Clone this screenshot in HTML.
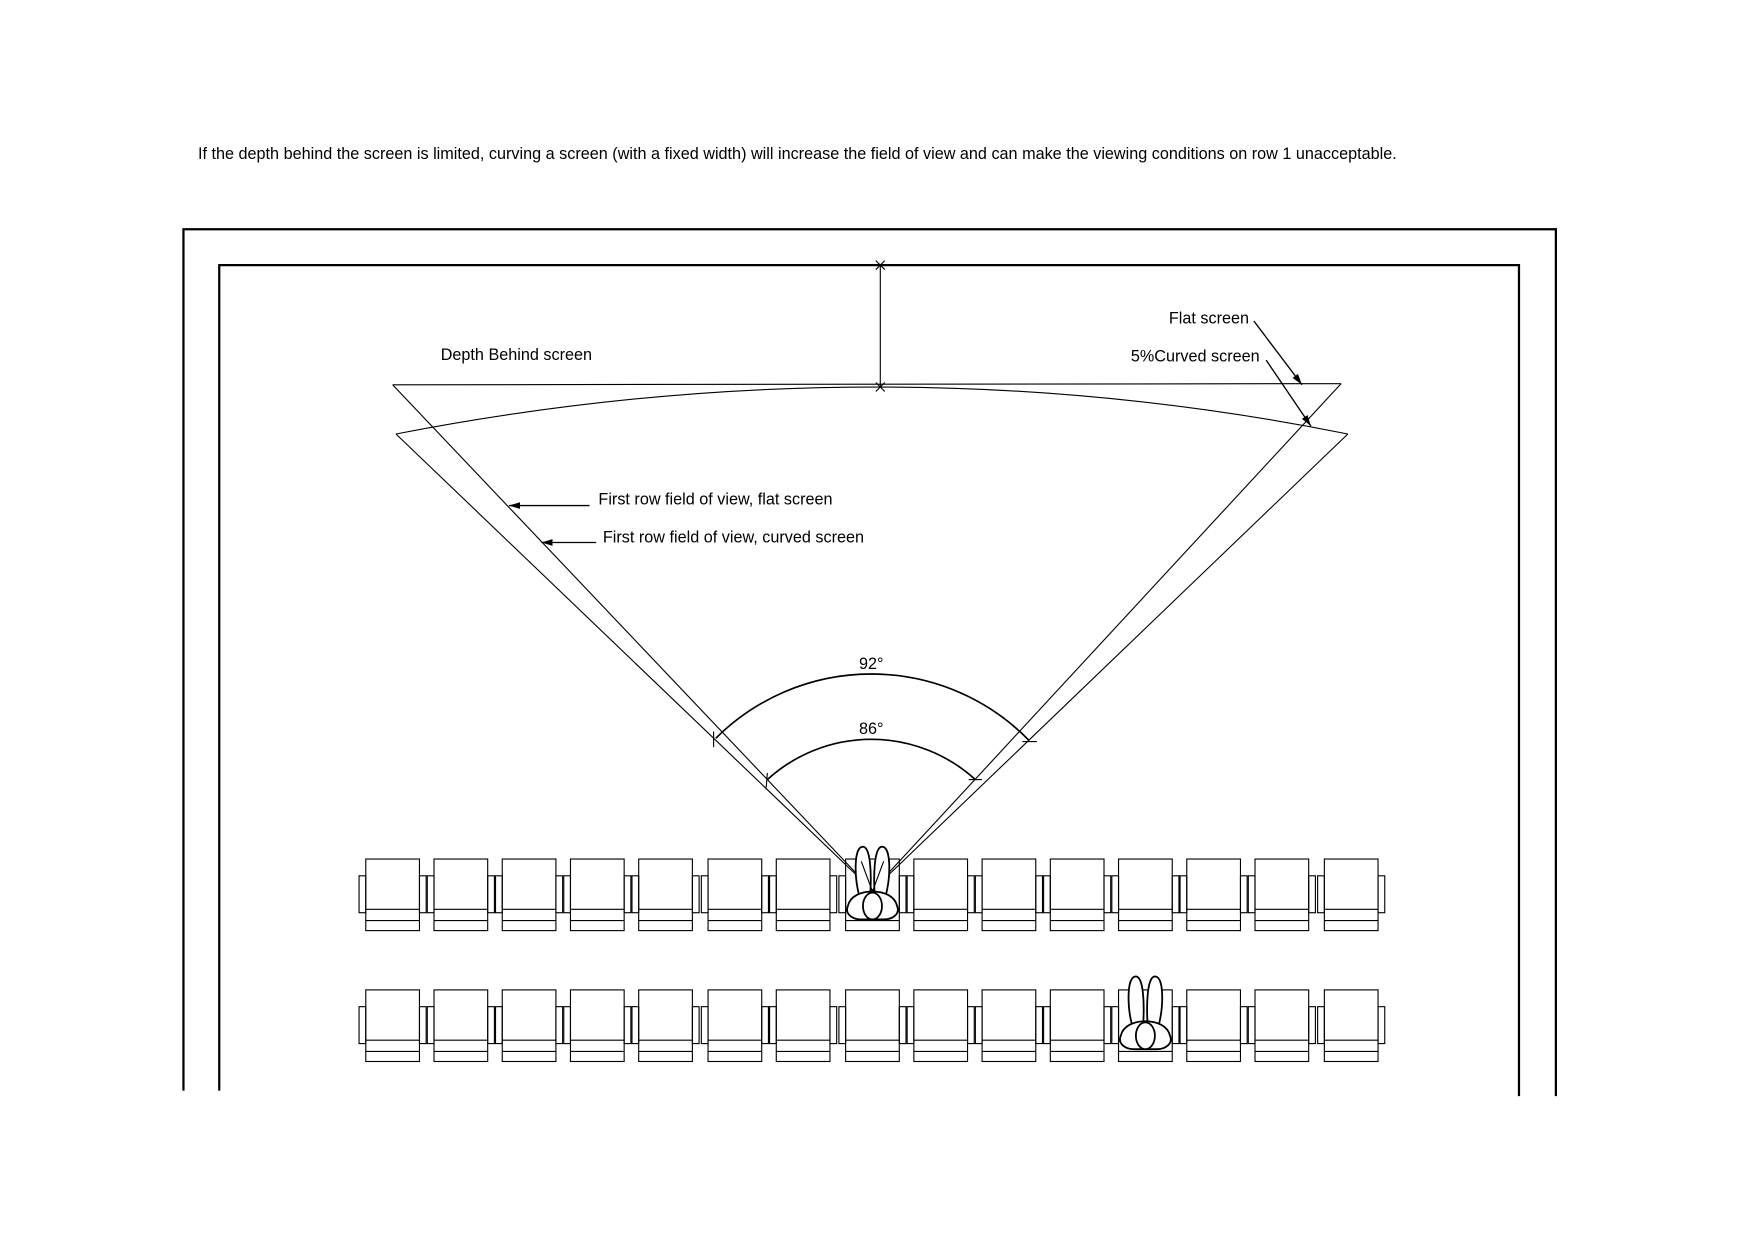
<!DOCTYPE html>
<html><head><meta charset="utf-8"><style>
html,body{margin:0;padding:0;background:#fff;}
svg{display:block;}
text{font-family:"Liberation Sans",Arial,sans-serif;fill:#000;}
</style></head><body>
<svg width="1755" height="1240" viewBox="0 0 1569 1108.6" xmlns="http://www.w3.org/2000/svg">
<defs>
<g id="seat" fill="none" stroke="#000" stroke-width="1">
<rect x="0" y="0" width="48" height="64"/>
<line x1="0" y1="45" x2="48" y2="45"/>
<line x1="0" y1="55" x2="48" y2="55"/>
<rect x="-6" y="15" width="6" height="33"/>
<rect x="48" y="15" width="6" height="33"/>
</g>
<g id="person" fill="#fff" stroke="#000" stroke-width="1.6">
<path d="M768,800 C764,785 763,758 771,757 C779,756 779,785 778,800"/>
<path d="M782,800 C781,785 781,756 789,757 C797,758 796,785 792,800"/>
<path d="M758,810 C760,801 770,797 780,797 C790,797 800,801 802,810 C805,817 798,822 790,822 C784,822 776,822 770,822 C762,822 755,817 758,810 Z"/>
<ellipse cx="780" cy="810" rx="8.5" ry="12"/>
</g>
<marker id="ah" markerWidth="10" markerHeight="6" refX="10" refY="3" orient="auto" markerUnits="userSpaceOnUse">
<path d="M0,0 L10,3 L0,6 Z" fill="#000"/>
</marker>
</defs>

<text x="177" y="142" font-size="14.5">If the depth behind the screen is limited, curving a screen (with a fixed width) will increase the field of view and can make the viewing conditions on row 1 unacceptable.</text>

<g fill="none" stroke="#000" stroke-width="2">
<polyline points="164,975 164,205 1391,205 1391,980"/>
<polyline points="196,975 196,237 1358,237 1358,980"/>
</g>

<g fill="none" stroke="#000" stroke-width="1">
<line x1="787" y1="237" x2="787" y2="346"/>
<line x1="783" y1="233" x2="791" y2="241"/>
<line x1="783" y1="241" x2="791" y2="233"/>
<line x1="783" y1="342" x2="791" y2="350"/>
<line x1="783" y1="350" x2="791" y2="342"/>
<line x1="351" y1="344" x2="1199" y2="343"/>
<line x1="351" y1="344" x2="780" y2="796"/>
<line x1="1199" y1="343" x2="780" y2="796"/>
<path d="M354,388 Q787,304 1205,388"/>
<line x1="354" y1="388" x2="780" y2="796"/>
<line x1="1205" y1="388" x2="780" y2="796"/>
</g>

<g fill="none" stroke="#000" stroke-width="1.5">
<path d="M640,660 A197,197 0 0 1 920,662"/>
<path d="M686,697 A138,138 0 0 1 872,697"/>
</g>
<g stroke="#000" stroke-width="1">
<line x1="638" y1="654" x2="638" y2="668"/>
<line x1="914" y1="663" x2="927" y2="663"/>
<line x1="686" y1="691" x2="685" y2="704"/>
<line x1="866" y1="697" x2="878" y2="697"/>
</g>

<text x="768" y="598" font-size="14.5">92°</text>
<text x="768" y="656" font-size="14.5">86°</text>

<text x="394" y="322" font-size="14.5">Depth Behind screen</text>
<text x="1045" y="289" font-size="14.5">Flat screen</text>
<text x="1011" y="323" font-size="14.5">5%Curved screen</text>
<text x="535" y="451" font-size="14.5">First row field of view, flat screen</text>
<text x="539" y="485" font-size="14.5">First row field of view, curved screen</text>

<g stroke="#000" stroke-width="1.2" fill="none">
<line x1="1121" y1="287" x2="1164" y2="344" marker-end="url(#ah)"/>
<line x1="1132" y1="322" x2="1172" y2="381" marker-end="url(#ah)"/>
<line x1="527" y1="452" x2="455" y2="452" marker-end="url(#ah)"/>
<line x1="533" y1="485" x2="484" y2="485" marker-end="url(#ah)"/>
</g>

<g transform="translate(0,768)">
<use href="#seat" x="327"/><use href="#seat" x="388"/><use href="#seat" x="449"/><use href="#seat" x="510"/><use href="#seat" x="571"/><use href="#seat" x="633"/><use href="#seat" x="694"/><use href="#seat" x="756"/><use href="#seat" x="817"/><use href="#seat" x="878"/><use href="#seat" x="939"/><use href="#seat" x="1000"/><use href="#seat" x="1061"/><use href="#seat" x="1122"/><use href="#seat" x="1184"/>
</g>
<g transform="translate(0,885)">
<use href="#seat" x="327"/><use href="#seat" x="388"/><use href="#seat" x="449"/><use href="#seat" x="510"/><use href="#seat" x="571"/><use href="#seat" x="633"/><use href="#seat" x="694"/><use href="#seat" x="756"/><use href="#seat" x="817"/><use href="#seat" x="878"/><use href="#seat" x="939"/><use href="#seat" x="1000"/><use href="#seat" x="1061"/><use href="#seat" x="1122"/><use href="#seat" x="1184"/>
</g>

<use href="#person"/>
<g stroke="#000" stroke-width="1">
<line x1="770" y1="770" x2="780" y2="797"/>
<line x1="790" y1="770" x2="780" y2="797"/>
</g>
<use href="#person" transform="translate(244,116)"/>
</svg>
</body></html>
